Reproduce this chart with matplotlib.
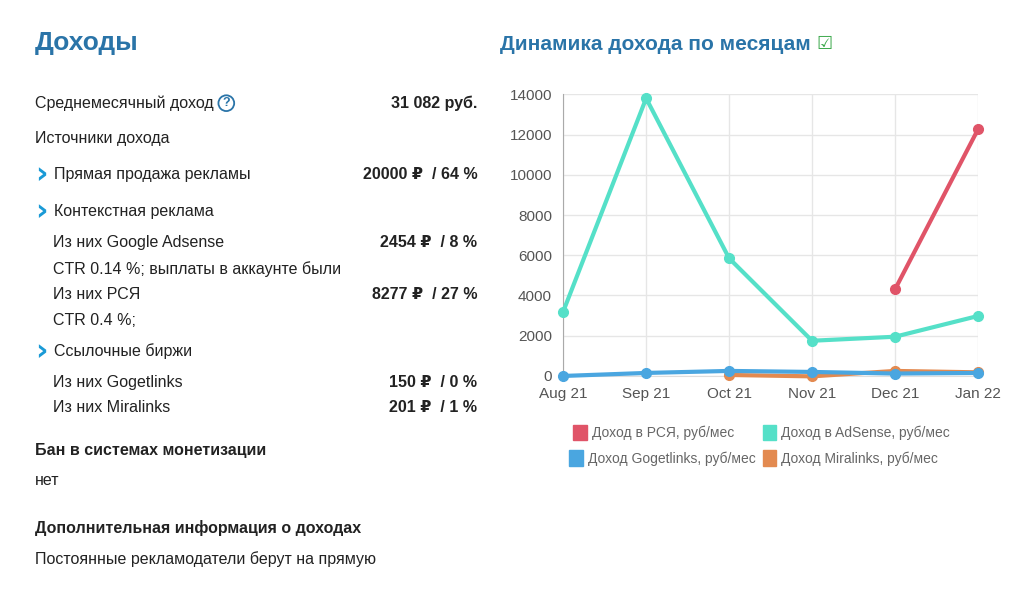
import numpy as np
import matplotlib.pyplot as plt

plt.rcParams['font.family'] = ['Liberation Sans', 'DejaVu Sans']

months = ['Aug 21', 'Sep 21', 'Oct 21', 'Nov 21', 'Dec 21', 'Jan 22']
rsya = [np.nan, np.nan, np.nan, np.nan, 4300, 12250]
adsense = [3200, 13800, 5850, 1750, 1950, 2980]
gogetlinks = [0, 150, 250, 200, 120, 150]
miralinks = [np.nan, np.nan, 50, -20, 250, 180]
series_names = ['Доход в РСЯ, руб/мес', 'Доход в AdSense, руб/мес',
                'Доход Gogetlinks, руб/мес', 'Доход Miralinks, руб/мес']
colors = ['#e05468', '#55e0c8', '#4aa6e0', '#e38a50']

fig = plt.figure(figsize=(10.24, 5.93), dpi=100)
ax = fig.add_axes([0.55, 0.366, 0.405, 0.475])
x = np.arange(len(months))
for vals, c in [(miralinks, colors[3]), (gogetlinks, colors[2]),
                (adsense, colors[1]), (rsya, colors[0])]:
    ax.plot(x, vals, color=c, lw=3, marker='o', ms=7, clip_on=False, zorder=3)
ax.set_xlim(0, 5)
ax.set_ylim(0, 14000)
ax.set_yticks(range(0, 14001, 2000))
ax.set_xticks(x)
ax.set_xticklabels(months)
ax.grid(color='#e6e6e6', lw=1)
for s in ['top', 'right']:
    ax.spines[s].set_visible(False)
ax.spines['left'].set_color('#aaaaaa')
ax.spines['bottom'].set_color('#dddddd')
ax.tick_params(colors='#555555', labelsize=11, length=0, pad=8)

# legend
leg_pos = [(0.56, 0.27), (0.745, 0.27), (0.556, 0.227), (0.745, 0.227)]
for (lx, ly), name, c in zip(leg_pos, series_names, colors):
    fig.patches.append(plt.Rectangle((lx, ly - 0.012), 0.013, 0.026, color=c,
                                     transform=fig.transFigure, figure=fig))
    fig.text(lx + 0.018, ly, name, fontsize=10, color='#666666', va='center')

# titles
blue = '#2a74a8'
fig.text(0.034, 0.928, 'Доходы', fontsize=19, fontweight='bold', color=blue, va='center')
fig.text(0.488, 0.925, 'Динамика дохода по месяцам', fontsize=15, fontweight='bold',
         color=blue, va='center')
fig.text(0.797, 0.925, '☑', fontsize=13, color='#3aa84a', va='center',
         family='DejaVu Sans')

# left info block
rows = [
    (0.034, 0.826, 'Среднемесячный доход', '31 082 руб.'),
    (0.034, 0.767, 'Источники дохода', ''),
    (0.053, 0.706, 'Прямая продажа рекламы', '20000 ₽  / 64 %'),
    (0.053, 0.644, 'Контекстная реклама', ''),
    (0.052, 0.591, 'Из них Google Adsense', '2454 ₽  / 8 %'),
    (0.052, 0.546, 'CTR 0.14 %; выплаты в аккаунте были', ''),
    (0.052, 0.503, 'Из них РСЯ', '8277 ₽  / 27 %'),
    (0.052, 0.459, 'CTR 0.4 %;', ''),
    (0.053, 0.408, 'Ссылочные биржи', ''),
    (0.052, 0.355, 'Из них Gogetlinks', '150 ₽  / 0 %'),
    (0.052, 0.312, 'Из них Miralinks', '201 ₽  / 1 %'),
]
for lx, ly, label, val in rows:
    fig.text(lx, ly, label, fontsize=11.5, color='#222222', va='center')
    if val:
        fig.text(0.466, ly, val, fontsize=11.5, fontweight='bold', color='#222222',
                 va='center', ha='right')
for ly in [0.706, 0.644, 0.408]:
    fig.text(0.034, ly, '›', fontsize=22, fontweight='bold', color='#1a9ad6',
             va='center', family='DejaVu Sans')
fig.text(0.221, 0.826, '?', fontsize=9, fontweight='bold', color=blue, va='center',
         ha='center', bbox=dict(boxstyle='circle,pad=0.15', fc='white', ec=blue, lw=1.3))

fig.text(0.034, 0.240, 'Бан в системах монетизации', fontsize=11.5, fontweight='bold',
         color='#222222', va='center')
fig.text(0.034, 0.189, 'нет', fontsize=11.5, color='#222222', va='center')
fig.text(0.034, 0.110, 'Дополнительная информация о доходах', fontsize=11.5,
         fontweight='bold', color='#222222', va='center')
fig.text(0.034, 0.058, 'Постоянные рекламодатели берут на прямую', fontsize=11.5,
         color='#222222', va='center')

fig.savefig('out.png', dpi=100)
